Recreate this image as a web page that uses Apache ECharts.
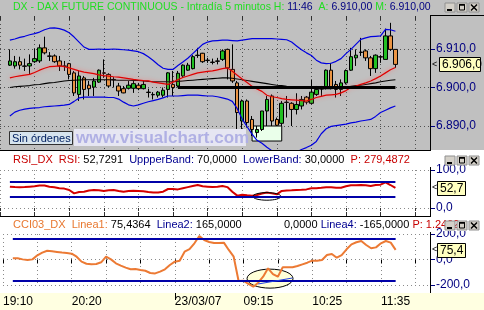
<!DOCTYPE html>
<html><head><meta charset="utf-8">
<script src="https://cdn.jsdelivr.net/npm/echarts@6/dist/echarts.min.js"></script>
<style>
html,body{margin:0;padding:0;background:#fff;}
#c{width:484px;height:310px;background:linear-gradient(to bottom,#c0c0c0 0,#c0c0c0 150px,#ffffff 150px,#ffffff 293px,#ffffe1 293px,#ffffe1 310px);}
</style></head><body><div id="c"></div>
<script>
// ---------- data ----------
const categories = ['19:10','19:15','19:20','19:25','19:30','19:35','19:40','19:45','19:50','19:55','20:00','20:05','20:10','20:15','20:20','20:25','20:30','20:35','20:40','20:45','20:50','20:55','21:00','21:05','21:10','21:15','21:20','21:25','21:30','21:35','21:40','21:45','21:50','21:55','22:00',
'08:05','08:10','08:15','08:20','08:25','08:30','08:35','08:40','08:45','08:50','08:55','09:00','09:05','09:10','09:15','09:20','09:25','09:30','09:35','09:40','09:45','09:50','09:55','10:00','10:05','10:10','10:15','10:20','10:25','10:30','10:35','10:40','10:45','10:50','10:55','11:00','11:05','11:10','11:15','11:20','11:25','11:30','11:35','11:40','11:45','11:50','11:55','12:00','12:05','12:10','12:15','12:20','12:25'];
const firstBar = '19:20';
const lastBar = '11:50';
const dayStart = '08:05';
const dayLabel = '23/03/07';
const shownLabels = ['19:10','20:20','08:05','09:15','10:25','11:35'];

const opens  = [6905.8,6905.6,6906.7,6905.6,6905.6,6906.7,6906.9,6910.3,6908.2,6908.2,6906.9,6905.6,6906.2,6903.8,6898.2,6902.5,6900.6,6900.1,6901.4,6903.8,6903.4,6902.1,6900.4,6899.7,6899.8,6899.8,6900.6,6899.7,6898.8,6898.2,6898.0,6898.0,6899.5,6900.8,6900.4,6903.0,6904.5,6904.9,6908.4,6908.9,6907.1,6906.6,6906.9,6907.3,6909.9,6904.7,6901.2,6891.3,6896.5,6891.7,6888.3,6889.1,6893.9,6897.8,6891.7,6890.7,6896.2,6895.9,6894.3,6895.2,6897.5,6895.9,6898.2,6899.7,6900.0,6904.5,6900.8,6899.5,6901.2,6904.5,6907.7,6909.2,6909.5,6907.7,6904.9,6908.0,6907.3,6913.4,6909.9];
const closes = [6906.9,6906.7,6905.8,6905.5,6906.2,6907.5,6910.3,6909.0,6908.1,6906.7,6905.6,6905.5,6903.4,6898.6,6903.0,6899.5,6899.7,6901.7,6904.5,6903.7,6900.4,6902.0,6899.1,6898.6,6900.6,6901.0,6899.7,6900.8,6898.7,6898.1,6898.8,6899.3,6903.8,6900.0,6903.7,6905.8,6905.8,6908.0,6908.3,6906.7,6907.0,6906.5,6906.8,6909.5,6905.1,6901.7,6893.5,6896.5,6890.9,6889.1,6889.1,6893.9,6896.9,6891.3,6890.2,6895.9,6896.1,6894.3,6895.6,6896.9,6896.2,6898.8,6899.5,6899.6,6904.5,6900.0,6899.5,6901.2,6904.4,6908.0,6908.4,6909.1,6907.7,6904.9,6908.4,6907.9,6913.4,6909.9,6906.0];
const lows   = [6905.6,6904.9,6904.7,6904.3,6903.4,6906.4,6906.4,6908.6,6906.9,6906.4,6904.3,6904.3,6902.1,6897.8,6896.5,6896.9,6897.8,6897.8,6901.2,6902.5,6900.0,6900.0,6897.8,6898.5,6899.5,6898.6,6899.3,6899.5,6897.4,6896.9,6897.4,6897.4,6897.4,6897.8,6900.0,6902.5,6904.3,6904.7,6907.7,6906.4,6906.4,6906.0,6906.0,6906.9,6902.1,6901.2,6889.1,6889.1,6889.6,6887.4,6887.0,6888.7,6890.0,6890.0,6890.0,6890.0,6892.2,6890.0,6893.0,6894.3,6895.6,6895.6,6897.8,6897.8,6899.5,6899.5,6897.4,6897.8,6900.8,6904.3,6905.6,6908.2,6906.9,6903.0,6903.8,6906.4,6907.3,6909.5,6905.1];
const highs  = [6909.9,6908.2,6908.0,6907.5,6908.6,6910.1,6911.2,6913.2,6909.2,6908.6,6908.2,6906.9,6906.4,6904.3,6904.3,6903.0,6901.7,6902.5,6904.7,6907.3,6903.7,6902.7,6901.2,6900.4,6901.7,6901.7,6901.2,6901.7,6899.7,6898.8,6899.1,6900.0,6904.0,6904.3,6904.3,6906.0,6906.4,6908.4,6910.3,6909.0,6907.7,6907.5,6907.7,6909.9,6910.1,6911.2,6901.7,6896.9,6896.9,6892.6,6890.0,6893.9,6897.8,6898.2,6892.2,6896.5,6897.8,6896.2,6898.5,6897.8,6897.8,6902.1,6900.4,6900.4,6904.7,6906.4,6901.7,6902.1,6904.7,6910.3,6909.9,6912.9,6909.9,6908.2,6908.6,6908.4,6915.3,6916.8,6909.9];

const upperBand = [6912.3,6912.6,6913.0,6913.3,6913.7,6914.0,6914.4,6915.0,6915.4,6915.5,6915.3,6914.9,6914.2,6913.1,6911.8,6910.5,6909.9,6909.9,6910.0,6909.9,6909.9,6910.0,6909.9,6909.8,6909.7,6909.5,6909.3,6908.8,6908.0,6907.0,6905.9,6905.0,6904.7,6904.7,6905.7,6906.6,6907.6,6908.8,6910.0,6911.2,6911.8,6912.1,6912.2,6912.3,6912.3,6912.2,6912.1,6912.3,6912.5,6912.7,6912.7,6912.7,6912.7,6912.7,6912.6,6912.5,6912.4,6911.8,6910.8,6909.8,6909.0,6908.3,6907.1,6906.4,6906.2,6906.3,6906.8,6907.5,6908.8,6909.9,6911.2,6912.5,6912.9,6913.2,6913.3,6913.4,6915.1,6915.0,6914.6];
const lowerBand = [6892.6,6893.6,6894.1,6894.4,6894.6,6894.7,6894.8,6895.0,6895.1,6895.2,6895.3,6895.4,6895.6,6896.4,6897.3,6897.5,6897.5,6897.5,6897.5,6897.5,6897.4,6897.4,6897.0,6896.2,6895.5,6895.2,6895.5,6895.9,6896.3,6896.6,6896.9,6897.3,6897.8,6897.8,6897.8,6897.9,6898.0,6898.05,6898.0,6897.9,6897.8,6897.8,6897.6,6897.3,6897.0,6896.4,6894.5,6891.8,6889.8,6887.9,6886.3,6885.5,6884.5,6883.6,6883.0,6882.7,6882.6,6882.8,6883.2,6883.9,6884.4,6885.0,6886.0,6888.0,6889.3,6889.9,6890.1,6890.3,6890.5,6890.8,6891.0,6891.3,6891.5,6891.7,6892.5,6893.5,6894.1,6894.7,6895.2];
const midAverage = [6902.5,6902.8,6903.0,6903.2,6903.4,6903.9,6904.5,6905.0,6905.4,6905.5,6905.6,6905.4,6905.1,6904.7,6904.3,6904.0,6903.8,6903.6,6903.3,6903.1,6902.95,6902.8,6902.7,6902.5,6902.3,6902.1,6901.95,6901.8,6901.7,6901.4,6901.2,6901.0,6900.8,6901.4,6902.0,6902.6,6903.0,6903.4,6903.8,6904.0,6904.2,6904.3,6904.6,6904.9,6905.1,6904.2,6903.2,6902.2,6901.3,6900.3,6899.6,6899.0,6898.0,6897.6,6897.4,6897.1,6896.9,6896.8,6896.7,6896.6,6896.5,6896.9,6897.4,6897.7,6898.0,6898.1,6898.2,6898.6,6899.2,6900.0,6900.4,6900.8,6901.2,6901.7,6902.3,6903.0,6903.8,6904.6,6905.2];
const slowAverage = [6900.0,6900.2,6900.3,6900.4,6900.5,6900.7,6900.8,6901.0,6901.2,6901.3,6901.5,6901.7,6901.8,6901.9,6901.95,6902.0,6902.0,6902.0,6902.0,6902.0,6902.0,6901.95,6901.9,6901.9,6901.9,6901.85,6901.8,6901.7,6901.6,6901.5,6901.5,6901.5,6901.5,6901.5,6901.6,6901.7,6901.8,6901.9,6902.0,6902.1,6902.2,6902.3,6902.4,6902.5,6902.5,6902.4,6902.2,6902.0,6901.8,6901.6,6901.4,6901.2,6901.0,6900.8,6900.6,6900.5,6900.3,6900.2,6900.1,6900.0,6899.9,6899.8,6899.8,6899.7,6899.7,6899.7,6899.8,6899.9,6900.0,6900.3,6900.5,6900.6,6900.8,6901.0,6901.2,6901.5,6901.7,6901.9,6902.0];
const supportLevel = 6900;
const supportFrom = '08:10';

const rsiValues = [56,55,54.5,55,56,57,59,59,56,54.5,52,51,47.5,38.5,42,43,46,47.5,46.5,45,46.5,47.5,45,43,45,45.5,45,44,42,40.5,41,43,50,50,49,52,55,58,60.5,57,56,55,56,58,55,43,32.5,35,33.5,32.5,34,38,41,38.5,36,45,46,46.5,47.5,48,49,52,52,53,54.5,54.5,53,53.5,57,60,60,60.5,60,58,60.5,61.5,67.5,60.5,52.7];
const rsiUpper = 70, rsiLower = 30;
const cciValues = [9,9,1,-4,1,33,54,69,64,59,54,51,46,22,-17,-33,-38,-35,-22,22,1,-30,-48,-64,-77,-75,-82,-88,-106,-109,-95,-77,-43,-17,-9,61,82,127,184,153,137,129,129,132,75,22,-169,-166,-192,-213,-182,-135,-69,-114,-135,-61,-61,-61,-51,-38,-25,-9,-9,-4,35,43,14,35,80,119,135,145,114,88,95,127,145,132,75.4];
const cciUpper = 165, cciLower = -165;

const priceTicks = [6890, 6900, 6910];
const rsiTicks = [0, 100];
const cciTicks = [-200, 0, 200];
const priceMin = 6883.77, priceMax = 6918.57;

// ---------- helpers ----------
const FONT = '"Liberation Sans", Arial, sans-serif';
const fmt = v => { const p = Number(v).toFixed(1).split('.'); return p[0].replace(/\B(?=(\d{3})+(?!\d))/g, '.') + ',' + p[1]; };
const lead = categories.indexOf(firstBar);
const pad = arr => Array(lead).fill('-').concat(arr);
const every7 = i => i % 7 === 0;
const labelIdx = shownLabels.map(s => categories.indexOf(s));
const candles = opens.map((o, i) => [o, closes[i], lows[i], highs[i]]);
const dotted = c => ({ show: true, lineStyle: { color: c, width: 1, type: [1, 3] } });

function xAx(grid, extra) {
  return Object.assign({
    type: 'category', data: categories, gridIndex: grid, boundaryGap: false,
    axisLine: { show: false }, axisTick: { show: false }, axisLabel: { show: false },
    splitLine: Object.assign(dotted(grid === 0 ? '#505050' : '#8a8a8a'), { interval: (i) => every7(i) })
  }, extra || {});
}
function yAx(grid, min, max, ticks) {
  return {
    type: 'value', gridIndex: grid, position: 'right', min, max,
    axisLine: { show: false },
    axisTick: { show: true, length: 5, customValues: ticks, lineStyle: { color: '#000080' } },
    axisLabel: { show: true, customValues: ticks, formatter: fmt, color: '#000080', fontSize: 12, fontFamily: FONT, margin: 6 },
    splitLine: dotted(grid === 0 ? '#505050' : '#8a8a8a')
  };
}

const bandLine = v => [{ coord: [firstBar, v] }, { coord: [lastBar, v] }];

const option = {
  animation: false,
  grid: [
    { left: -3, right: 54, top: 16, height: 134 },
    { left: -3, right: 54, top: 170, height: 38 },
    { left: -3, right: 54, top: 234, height: 51 }
  ],
  xAxis: [
    xAx(0, { position: 'top', axisTick: { show: true, inside: true, length: 4, interval: (i) => every7(i), lineStyle: { color: '#303030' } } }),
    xAx(1, { position: 'top', offset: 17, axisTick: { show: true, inside: true, length: 3, interval: (i) => every7(i), lineStyle: { color: '#303030' } } }),
    xAx(2, { position: 'bottom', offset: 8,
      axisTick: { show: true, length: 4, interval: (i) => every7(i), lineStyle: { color: '#000' } },
      axisLabel: { show: true, interval: (i) => labelIdx.indexOf(i) >= 0, align: 'left', margin: 3, color: '#000', fontSize: 12, fontFamily: FONT,
        formatter: v => v === dayStart ? dayLabel : v } }),
    xAx(2, { position: 'bottom', offset: 8, splitLine: { show: false },
      axisTick: { show: true, length: 7, interval: (i) => categories[i] === dayStart, lineStyle: { color: '#000' } } }),
    xAx(1, { position: 'bottom', offset: 8, splitLine: { show: false },
      axisTick: { show: true, inside: true, length: 4, interval: (i) => every7(i), lineStyle: { color: '#303030' } } })
  ],
  yAxis: [
    yAx(0, priceMin, priceMax, priceTicks),
    yAx(1, 0, 100, rsiTicks),
    yAx(2, -200, 200, cciTicks)
  ],
  series: [
    { type: 'candlestick', xAxisIndex: 0, yAxisIndex: 0, data: pad(candles), barWidth: 4,
      itemStyle: { color: '#22c022', color0: '#ea9444', borderColor: '#000', borderColor0: '#000', borderWidth: 1 },
      markArea: { silent: true, itemStyle: { color: '#eaffea', borderColor: '#000', borderWidth: 1 },
        data: [[{ coord: ['09:25', 6890] }, { coord: ['09:55', 6886.1] }]] } },
    { type: 'line', xAxisIndex: 0, yAxisIndex: 0, data: pad(upperBand), showSymbol: false, lineStyle: { color: '#0000e0', width: 1.2 } },
    { type: 'line', xAxisIndex: 0, yAxisIndex: 0, data: pad(lowerBand), showSymbol: false, lineStyle: { color: '#0000e0', width: 1.2 } },
    { type: 'line', xAxisIndex: 0, yAxisIndex: 0, data: pad(slowAverage), showSymbol: false, lineStyle: { color: '#000', width: 1.1 },
      markLine: { silent: true, symbol: ['none', 'none'], label: { show: false }, lineStyle: { color: '#000', width: 3, type: 'solid' },
        data: [[{ coord: [supportFrom, supportLevel] }, { coord: [lastBar, supportLevel] }]] } },
    { type: 'line', xAxisIndex: 0, yAxisIndex: 0, data: pad(midAverage), showSymbol: false,
      lineStyle: { color: '#e00000', width: 1.2, shadowColor: 'rgba(255,110,110,0.9)', shadowBlur: 4 } },
    { type: 'line', xAxisIndex: 1, yAxisIndex: 1, data: pad(rsiValues), showSymbol: false, lineStyle: { color: '#d40000', width: 2 }, z: 3,
      markLine: { silent: true, symbol: ['none', 'none'], label: { show: false }, lineStyle: { color: '#0000a8', width: 2, type: 'solid' },
        data: [bandLine(rsiUpper), bandLine(rsiLower)] } },
    { type: 'line', xAxisIndex: 2, yAxisIndex: 2, data: pad(cciValues), showSymbol: false, clip: false, lineStyle: { color: '#ec7a34', width: 2 }, z: 3,
      markLine: { silent: true, symbol: ['none', 'none'], label: { show: false }, lineStyle: { color: '#0000a8', width: 2, type: 'solid' },
        data: [bandLine(cciUpper), bandLine(cciLower),
          [{ coord: ['09:30', -192], lineStyle: { width: 1, color: '#2040e0' } }, { coord: ['10:05', -145] }]] } }
  ]
};

const chart = echarts.init(document.getElementById('c'));
chart.setOption(option);

// ---------- decorations ----------
function buttons(top) {
  const out = [];
  for (let k = 0; k < 3; k++) {
    const x = 445 + k * 12;
    out.push({ type: 'rect', z: 20, shape: { x: x, y: top, width: 10, height: 9 }, style: { fill: '#d4d0c8', stroke: '#909090', lineWidth: 1 } });
  }
  out.push({ type: 'rect', z: 21, shape: { x: 447, y: top + 6, width: 5, height: 2 }, style: { fill: '#000' } });
  out.push({ type: 'rect', z: 21, shape: { x: 459.5, y: top + 1.5, width: 5, height: 5.5 }, style: { fill: 'none', stroke: '#000', lineWidth: 1 } });
  out.push({ type: 'line', z: 21, shape: { x1: 459, y1: top + 2, x2: 465, y2: top + 2 }, style: { stroke: '#000', lineWidth: 1.5 } });
  out.push({ type: 'line', z: 21, shape: { x1: 471, y1: top + 1.5, x2: 477, y2: top + 7.5 }, style: { stroke: '#000', lineWidth: 1.5 } });
  out.push({ type: 'line', z: 21, shape: { x1: 477, y1: top + 1.5, x2: 471, y2: top + 7.5 }, style: { stroke: '#000', lineWidth: 1.5 } });
  return out;
}
const rs = (c, size) => ({ fill: c, font: (size || 11) + 'px ' + FONT });
function valueBox(y, txt, x0, w) {
  return [
    { type: 'text', z: 20, x: 432, y: y, style: { text: '<', fill: '#000', font: '9px ' + FONT, verticalAlign: 'middle' } },
    { type: 'rect', z: 20, shape: { x: x0 + 0.5, y: Math.round(y) - 6.5, width: w, height: 14 }, style: { fill: '#ffffc0', stroke: '#000', lineWidth: 1 } },
    { type: 'text', z: 21, x: x0 + 3, y: Math.round(y) + 0.5, style: { text: txt, fill: '#000', font: '12px ' + FONT, verticalAlign: 'middle' } }
  ];
}
const yPrice = chart.convertToPixel({ yAxisIndex: 0 }, closes[closes.length - 1]);
const yRsi = chart.convertToPixel({ yAxisIndex: 1 }, rsiValues[rsiValues.length - 1]);
const yCci = chart.convertToPixel({ yAxisIndex: 2 }, cciValues[cciValues.length - 1]);
const rsiNote = chart.convertToPixel({ xAxisIndex: 1, yAxisIndex: 1 }, [categories.indexOf('09:40'), 30.5]);
const cciNote = chart.convertToPixel({ xAxisIndex: 2, yAxisIndex: 2 }, [categories.indexOf('09:40'), -150]);

const g = [];
// title bar
g.push({ type: 'text', z: 20, x: 13, y: 7.5, style: {
  text: '{g|DX - DAX FUTURE CONTINUOUS - Intradía 5 minutos} {g|H:} {b|11:46}  {g|A:} {b|6.910,00} {g|M:} {b|6.910,00}',
  verticalAlign: 'middle', font: '10.5px ' + FONT, rich: { g: rs('#22dd22', 10.5), b: rs('#000080', 10.5) } } });
buttons(3).forEach(e => g.push(e));
// separators and axis lines
g.push({ type: 'line', z: 15, shape: { x1: 430.5, y1: 15, x2: 430.5, y2: 150 }, style: { stroke: '#000', lineWidth: 1 } });
g.push({ type: 'line', z: 15, shape: { x1: 430, y1: 15.5, x2: 484, y2: 15.5 }, style: { stroke: '#000', lineWidth: 1 } });
g.push({ type: 'line', z: 15, shape: { x1: 0, y1: 150.5, x2: 431, y2: 150.5 }, style: { stroke: '#000', lineWidth: 1 } });
g.push({ type: 'line', z: 15, shape: { x1: 430.5, y1: 167, x2: 430.5, y2: 217 }, style: { stroke: '#000', lineWidth: 1 } });
g.push({ type: 'line', z: 15, shape: { x1: 0, y1: 216.5, x2: 431, y2: 216.5 }, style: { stroke: '#000', lineWidth: 1 } });
g.push({ type: 'line', z: 15, shape: { x1: 430.5, y1: 232, x2: 430.5, y2: 293 }, style: { stroke: '#000', lineWidth: 1 } });
// panel titles
g.push({ type: 'text', z: 20, x: 13, y: 160, style: {
  text: '{r|RSI_DX  RSI:} {k|52,7291}  {b|UppperBand:} {k|70,0000}  {b|LowerBand:} {k|30,0000}  {r|P: 279,4872}',
  verticalAlign: 'middle', font: '11px ' + FONT, rich: { r: rs('#c80000'), k: rs('#000'), b: rs('#000090') } } });
buttons(156).forEach(e => g.push(e));
g.push({ type: 'text', z: 20, x: 13, y: 225, style: {
  text: '{o|CCI03_DX  Linea1:} {k|75,4364}  {b|Linea2:} {k|165,0000} {w|Linea3:} {k|0,0000} {b|Linea4:} {k|-165,0000} {r|P: 1.2492}',
  verticalAlign: 'middle', font: '11px ' + FONT, rich: { o: rs('#e87830'), k: rs('#000'), b: rs('#000090'), w: rs('#ffffff'), r: rs('#c80000') } } });
g.push({ type: 'rect', z: 19, shape: { x: 443, y: 219, width: 41, height: 12 }, style: { fill: '#fff' } });
buttons(221).forEach(e => g.push(e));
// last value boxes
valueBox(yPrice, fmt(closes[closes.length - 1]), 439, 41).forEach(e => g.push(e));
valueBox(yRsi, fmt(rsiValues[rsiValues.length - 1]), 437, 28).forEach(e => g.push(e));
valueBox(yCci, fmt(cciValues[cciValues.length - 1]), 437, 28).forEach(e => g.push(e));
// labels in the main panel
g.push({ type: 'rect', z: 20, shape: { x: 74, y: 129, width: 172, height: 17 }, style: { fill: '#e6e6f2' } });
g.push({ type: 'text', z: 21, x: 76, y: 138, style: { text: 'www.visualchart.com', fill: '#b0b0e4', font: 'bold 17px ' + FONT, verticalAlign: 'middle' } });
g.push({ type: 'rect', z: 20, shape: { x: 9.5, y: 131.5, width: 63, height: 13 }, style: { fill: '#d6e4ee', stroke: '#303030', lineWidth: 1 } });
g.push({ type: 'text', z: 21, x: 12, y: 138.5, style: { text: 'Sin órdenes', fill: '#002060', font: '11px ' + FONT, verticalAlign: 'middle' } });
// annotations
g.push({ type: 'ellipse', z: 4, shape: { cx: rsiNote[0], cy: rsiNote[1], rx: 14, ry: 3.8 }, style: { fill: 'none', stroke: '#000', lineWidth: 1 } });
g.push({ type: 'ellipse', z: 1, shape: { cx: cciNote[0] + 2, cy: cciNote[1], rx: 23, ry: 9.5 }, style: { fill: '#ffffd8', stroke: '#000', lineWidth: 1 } });

chart.setOption({ graphic: { elements: g } });
</script></body></html>
